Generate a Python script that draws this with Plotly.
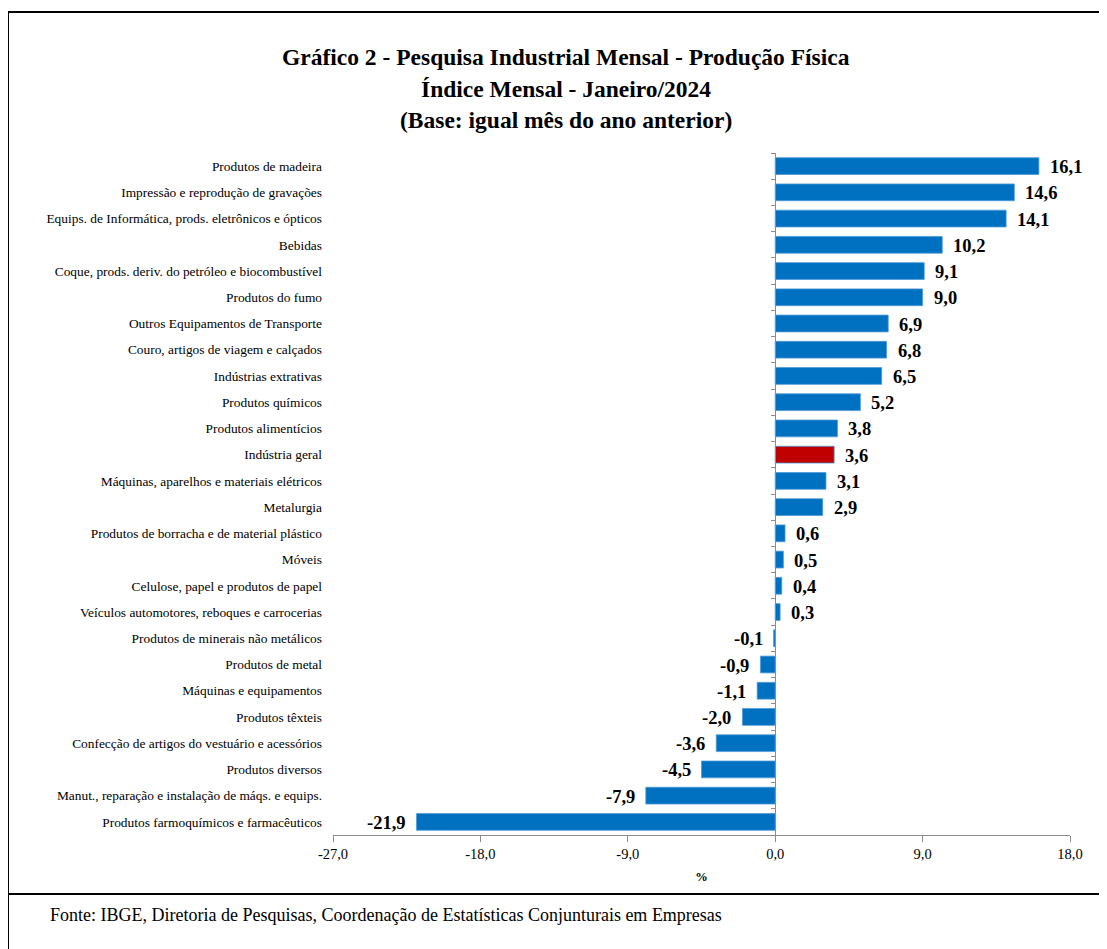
import plotly.graph_objects as go

categories = [
    "Produtos de madeira",
    "Impressão e reprodução de gravações",
    "Equips. de Informática, prods. eletrônicos e ópticos",
    "Bebidas",
    "Coque, prods. deriv. do petróleo e biocombustível",
    "Produtos do fumo",
    "Outros Equipamentos de Transporte",
    "Couro, artigos de viagem e calçados",
    "Indústrias extrativas",
    "Produtos químicos",
    "Produtos alimentícios",
    "Indústria geral",
    "Máquinas, aparelhos e materiais elétricos",
    "Metalurgia",
    "Produtos de borracha e de material plástico",
    "Móveis",
    "Celulose, papel e produtos de papel",
    "Veículos automotores, reboques e carrocerias",
    "Produtos de minerais não metálicos",
    "Produtos de metal",
    "Máquinas e equipamentos",
    "Produtos têxteis",
    "Confecção de artigos do vestuário e acessórios",
    "Produtos diversos",
    "Manut., reparação e instalação de máqs. e equips.",
    "Produtos farmoquímicos e farmacêuticos",
]
values = [16.1, 14.6, 14.1, 10.2, 9.1, 9.0, 6.9, 6.8, 6.5, 5.2, 3.8, 3.6, 3.1, 2.9,
          0.6, 0.5, 0.4, 0.3, -0.1, -0.9, -1.1, -2.0, -3.6, -4.5, -7.9, -21.9]
highlight = "Indústria geral"
x_ticks = [-27, -18, -9, 0, 9, 18]
x_tick_labels = ["-27,0", "-18,0", "-9,0", "0,0", "9,0", "18,0"]
title_lines = [
    "Gráfico 2 - Pesquisa Industrial Mensal - Produção Física",
    "Índice Mensal - Janeiro/2024",
    "(Base: igual mês do ano anterior)",
]
source_text = "Fonte: IBGE, Diretoria de Pesquisas, Coordenação de Estatísticas Conjunturais em Empresas"

OFF = 8  # page body margin
W, H = 1107 - OFF, 949 - OFF
L, R, T, B = 333 - OFF, 1070 - OFF, 153 - OFF, 835 - OFF
FONT = "Liberation Serif"

def px_x(px):
    # px: page coordinate
    return (px - OFF - L) / (R - L)

def px_y(py):
    return (B - (py - OFF)) / (B - T)

colors = ["#C00000" if c == highlight else "#0070C0" for c in categories]

fig = go.Figure()
fig.add_trace(go.Bar(
    x=values, y=categories, orientation="h",
    marker=dict(color=colors, line=dict(color="#4F9BD9", width=0.8)),
    width=0.64, showlegend=False, hoverinfo="x+y",
))
n = len(categories)
fig.add_trace(go.Scatter(x=[0, 0], y=[-0.5, n - 0.5], yaxis="y2", mode="lines",
                         line=dict(color="rgba(0,0,0,0)"), showlegend=False, hoverinfo="skip"))

def fmt(v):
    return f"{v:.1f}".replace(".", ",")

for c, v in zip(categories, values):
    fig.add_annotation(
        x=v, y=c, text=f"<b>{fmt(v)}</b>", showarrow=False,
        xanchor="left" if v >= 0 else "right", xshift=9 if v >= 0 else -9,
        yshift=-1,
        font=dict(family=FONT, size=18.5, color="#000000"),
    )

zero_pos = (0 - (-27)) / (18 - (-27))

fig.update_layout(
    width=W, height=H,
    margin=dict(l=L, r=W - R, t=T, b=H - B, pad=0),
    paper_bgcolor="white", plot_bgcolor="white",
    font=dict(family=FONT, size=13, color="#000000"),
    bargap=0.36,
    xaxis=dict(range=[-27, 18], tickvals=x_ticks, ticktext=x_tick_labels,
               showgrid=False, zeroline=False, showline=True, linecolor="#8C8C8C",
               linewidth=1, ticks="outside", ticklen=6, tickcolor="#8C8C8C",
               tickfont=dict(family=FONT, size=14.5), fixedrange=True,
               title=dict(text="<b>%</b>", font=dict(family=FONT, size=12.5), standoff=10)),
    yaxis=dict(categoryorder="array", categoryarray=categories, autorange="reversed",
               showgrid=False, zeroline=False, showline=False,
               ticks="", ticklabelstandoff=10, tickfont=dict(family=FONT, size=13.4)),
    yaxis2=dict(overlaying="y", anchor="free", position=zero_pos, side="left",
                range=[n - 0.5, -0.5], tickvals=[i - 0.5 for i in range(n + 1)],
                showticklabels=False, ticks="outside", ticklen=4, tickcolor="#8C8C8C",
                showline=True, linecolor="#8C8C8C", linewidth=1, showgrid=False,
                zeroline=False),
)

for i, line in enumerate(title_lines):
    fig.add_annotation(
        x=px_x(566), y=px_y(57 + i * 31.5), xref="paper", yref="paper",
        text=f"<b>{line}</b>", showarrow=False, xanchor="center", yanchor="middle",
        font=dict(family=FONT, size=23.5, color="#000000"),
    )

fig.add_annotation(
    x=px_x(48), y=px_y(915), xref="paper", yref="paper", text=source_text,
    showarrow=False, xanchor="left", yanchor="middle",
    font=dict(family=FONT, size=18, color="#000000"),
)

fig.add_shape(type="rect", xref="paper", yref="paper",
              x0=px_x(8), x1=px_x(1101), y0=px_y(975), y1=px_y(12),
              line=dict(color="#000000", width=2))
fig.add_shape(type="line", xref="paper", yref="paper",
              x0=px_x(8), x1=px_x(1101), y0=px_y(894), y1=px_y(894),
              line=dict(color="#000000", width=2))

fig.write_html("out.html")
